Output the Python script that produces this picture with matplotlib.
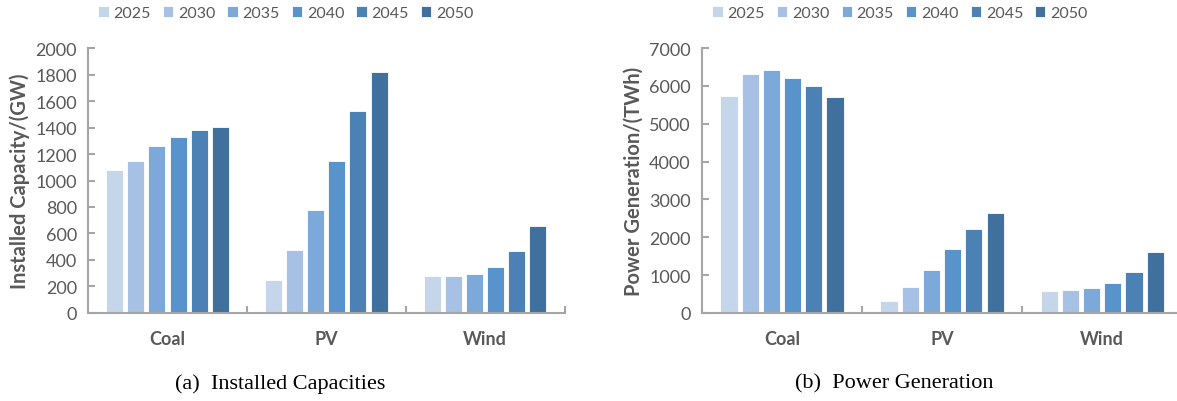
import numpy as np
import matplotlib
matplotlib.use('Agg')
import matplotlib.pyplot as plt
from matplotlib.ticker import FixedLocator

# data
categories = ['Coal', 'PV', 'Wind']
years = ['2025', '2030', '2035', '2040', '2045', '2050']
capacity = {
    '2025': [1080, 250, 280],
    '2030': [1150, 472, 280],
    '2035': [1262, 775, 297],
    '2040': [1330, 1148, 347],
    '2045': [1385, 1522, 466],
    '2050': [1402, 1818, 658],
}
generation = {
    '2025': [5735, 320, 592],
    '2030': [6325, 680, 610],
    '2035': [6430, 1140, 655],
    '2040': [6200, 1695, 786],
    '2045': [5990, 2225, 1095],
    '2050': [5715, 2645, 1605],
}
colors = ['#C5D5EA', '#A7C1E4', '#7DA9DA', '#5894CB', '#4B81B5', '#40709E']

grey = '#595959'
axis_grey = '#A6A6A6'

fig = plt.figure(figsize=(11.77, 4.02), dpi=100)


def draw_panel(ax, data, ymax, step, ylabel, caption, cap_x, leg_x):
    x = np.arange(len(categories))
    pitch = 0.1325
    width = 0.107
    for i, yr in enumerate(years):
        off = (i - 2.5) * pitch
        ax.bar(x + off, data[yr], width, color=colors[i], edgecolor='white',
               linewidth=0.6, label=yr, zorder=2)
    ax.set_xlim(-0.5, 2.5)
    ax.set_ylim(0, ymax)
    ax.set_yticks(np.arange(0, ymax + 1, step))
    ax.set_xticks(x)
    ax.set_xticklabels(categories, fontsize=13, fontweight='bold', color=grey,
                       family='Lato')
    ax.xaxis.set_minor_locator(FixedLocator([0.5, 1.5, 2.5]))
    ax.tick_params(axis='x', which='major', length=0, pad=12)
    ax.tick_params(axis='x', which='minor', length=5, color=axis_grey,
                   direction='in', width=1.5)
    ax.tick_params(axis='y', length=5, color=axis_grey, labelcolor=grey,
                   labelsize=13, pad=8, direction='in', width=1.5)
    for lbl in ax.get_yticklabels():
        lbl.set_family('Lato')
    for s in ['top', 'right']:
        ax.spines[s].set_visible(False)
    for s in ['left', 'bottom']:
        ax.spines[s].set_color(axis_grey)
        ax.spines[s].set_linewidth(1.5)
    ax.set_ylabel(ylabel, fontsize=14.5, fontweight='bold', color=grey,
                  family='Lato', labelpad=4)
    leg = ax.legend(loc='center', bbox_to_anchor=(leg_x, 1.132), ncol=6,
                    frameon=False, handlelength=0.65, handleheight=0.65,
                    handletextpad=0.3, columnspacing=0.75,
                    prop={'family': 'Lato', 'size': 11.5})
    for t in leg.get_texts():
        t.set_color(grey)
    fig.text(cap_x, 0.045, caption, ha='center', va='center', fontsize=16,
             family='Liberation Serif')


ax1 = fig.add_axes([0.0748, 0.219, 0.405, 0.659])
draw_panel(ax1, capacity, 2000, 200, 'Installed Capacity/(GW)',
           '(a)  Installed Capacities', 0.238, 0.415)

ax2 = fig.add_axes([0.5964, 0.219, 0.408, 0.659])
draw_panel(ax2, generation, 7000, 1000, 'Power Generation/(TWh)',
           '(b)  Power Generation', 0.760, 0.4125)

fig.savefig('out.png', dpi=100)
